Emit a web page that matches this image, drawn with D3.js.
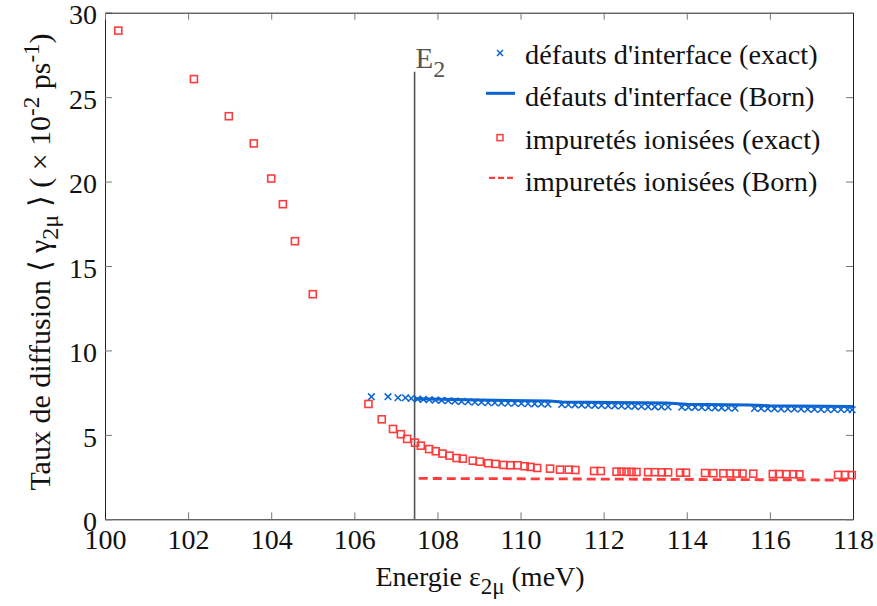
<!DOCTYPE html>
<html>
<head>
<meta charset="utf-8">
<script src="https://cdn.jsdelivr.net/npm/d3@7"></script>
<style>
    body { margin: 0; background: #fff; }
</style>
</head>
<body>
<script>
// tick labels
const xTicks = [100, 102, 104, 106, 108, 110, 112, 114, 116, 118];
const yTicks = [0, 5, 10, 15, 20, 25, 30];

// energie E2 (ligne verticale)
const E2 = 107.45;
const E2Top = 26.5;

// impuretés ionisées (exact)
const ionExactE = [100.32, 102.14, 102.98, 103.58, 104.00, 104.28, 104.57, 105.00,
    106.34, 106.66, 106.93, 107.12, 107.27, 107.46, 107.60, 107.80, 107.96, 108.12,
    108.29, 108.46, 108.61, 108.85, 109.02, 109.22, 109.40, 109.59, 109.75, 109.93,
    110.10, 110.24, 110.40, 110.71, 110.95, 111.16, 111.32, 111.77, 111.93,
    112.31, 112.43, 112.55, 112.67, 112.79, 113.07, 113.23, 113.40, 113.55,
    113.84, 113.98, 114.44, 114.64, 114.88, 115.04, 115.20, 115.34, 115.60,
    116.07, 116.22, 116.40, 116.56, 116.71, 117.64, 117.81, 117.97];
const ionExactRate = [28.94, 26.07, 23.87, 22.26, 20.18, 18.66, 16.47, 13.33,
    6.83, 5.92, 5.35, 5.04, 4.76, 4.54, 4.36, 4.16, 4.03, 3.89,
    3.77, 3.63, 3.59, 3.47, 3.41, 3.32, 3.28, 3.22, 3.20, 3.20,
    3.14, 3.10, 3.04, 3.00, 2.94, 2.94, 2.92, 2.86, 2.86,
    2.82, 2.82, 2.81, 2.81, 2.80, 2.79, 2.79, 2.78, 2.78,
    2.76, 2.76, 2.74, 2.73, 2.72, 2.72, 2.71, 2.71, 2.70,
    2.68, 2.68, 2.67, 2.67, 2.66, 2.63, 2.63, 2.62];

// impuretés ionisées (Born)
const ionBornE = [107.55, 110, 112, 114, 116, 118];
const ionBornRate = [2.42, 2.40, 2.38, 2.36, 2.34, 2.32];

// défauts d'interface (exact)
const ifExactE = [106.41, 106.81, 107.05, 107.23, 107.37,
    107.52, 107.66, 107.80, 107.95, 108.10, 108.26, 108.42, 108.58, 108.74, 108.90,
    109.06, 109.22, 109.38, 109.54, 109.70, 109.86, 110.02, 110.18, 110.34, 110.50, 110.66,
    110.99, 111.15, 111.31, 111.47, 111.63, 111.79, 111.95, 112.11, 112.27, 112.43,
    112.59, 112.75, 112.91, 113.07, 113.23, 113.39, 113.55,
    113.88, 114.04, 114.20, 114.36, 114.52, 114.68, 114.84, 115.00, 115.16,
    115.63, 115.79, 115.95, 116.11, 116.27, 116.43, 116.59, 116.75, 116.91,
    117.07, 117.23, 117.39, 117.55, 117.71, 117.87, 117.98];
const ifExactRate = [7.26, 7.26, 7.20, 7.20, 7.16,
    7.12, 7.10, 7.08, 7.06, 7.04, 7.02, 7.00, 6.98, 6.96, 6.94,
    6.93, 6.91, 6.90, 6.89, 6.88, 6.87, 6.86, 6.85, 6.84, 6.83, 6.82,
    6.80, 6.79, 6.78, 6.77, 6.76, 6.75, 6.74, 6.73, 6.72, 6.71,
    6.70, 6.69, 6.68, 6.67, 6.66, 6.66, 6.65,
    6.64, 6.63, 6.63, 6.62, 6.61, 6.60, 6.60, 6.59, 6.58,
    6.56, 6.56, 6.55, 6.55, 6.54, 6.54, 6.53, 6.53, 6.52,
    6.52, 6.51, 6.51, 6.50, 6.50, 6.50, 6.49];

// défauts d'interface (Born)
const ifBornE = [107.45, 109, 110.7, 111, 113.5, 114, 115.5, 116, 118];
const ifBornRate = [7.14, 7.06, 7.00, 6.95, 6.88, 6.82, 6.77, 6.73, 6.68];

const svgWidth = 877;
const svgHeight = 606;
const plot = {L: 105, R: 853, T: 12.7, B: 519.3};
const serif = "'Liberation Serif', 'Times New Roman', serif";

const blue = "#0a64d2";
const red = "#ff3b3b";

const svg = d3.select("body").append("svg")
    .attr("width", svgWidth)
    .attr("height", svgHeight)
    .style("font-family", serif);

const scaleX = d3.scaleLinear().domain([100, 118]).range([plot.L, plot.R]);
const scaleY = d3.scaleLinear().domain([0, 30]).range([plot.B, plot.T]);

const zip = (xs, ys) => xs.map((x, i) => [x, ys[i]]);

// frame with ticks on all sides
const tickLen = 7;
svg.append("g")
    .attr("transform", `translate(0,${plot.B})`)
    .call(d3.axisBottom(scaleX).tickValues(xTicks).tickSizeInner(-tickLen).tickSizeOuter(0).tickPadding(10))
    .attr("font-family", null)
    .call(g => g.select(".domain").attr("stroke", "#222"))
    .call(g => g.selectAll(".tick line").attr("stroke", "#777"))
    .call(g => g.selectAll(".tick text")
        .attr("font-size", 28).attr("fill", "#111").attr("dy", "0.72em"));

svg.append("g")
    .attr("transform", `translate(${plot.L},0)`)
    .call(d3.axisLeft(scaleY).tickValues(yTicks).tickSizeInner(-tickLen).tickSizeOuter(0).tickPadding(8))
    .attr("font-family", null)
    .call(g => g.select(".domain").attr("stroke", "#222"))
    .call(g => g.selectAll(".tick line").attr("stroke", "#777"))
    .call(g => g.selectAll(".tick text")
        .attr("font-size", 28).attr("fill", "#111").attr("dy", "0.4em"));

svg.append("g")
    .attr("transform", `translate(0,${plot.T})`)
    .call(d3.axisTop(scaleX).tickValues(xTicks).tickSizeInner(-tickLen).tickSizeOuter(0).tickFormat(""))
    .call(g => g.select(".domain").attr("stroke", "#222"))
    .call(g => g.selectAll(".tick line").attr("stroke", "#777"));

svg.append("g")
    .attr("transform", `translate(${plot.R},0)`)
    .call(d3.axisRight(scaleY).tickValues(yTicks).tickSizeInner(-tickLen).tickSizeOuter(0).tickFormat(""))
    .call(g => g.select(".domain").attr("stroke", "#222"))
    .call(g => g.selectAll(".tick line").attr("stroke", "#777"));

// E2 vertical line
svg.append("line")
    .attr("x1", scaleX(E2)).attr("x2", scaleX(E2))
    .attr("y1", scaleY(E2Top)).attr("y2", scaleY(0))
    .attr("stroke", "#555").attr("stroke-width", 1.6);

const e2Label = svg.append("text")
    .attr("x", scaleX(E2) + 1)
    .attr("y", scaleY(E2Top) - 4)
    .attr("font-size", 29)
    .attr("fill", "#555");
e2Label.append("tspan").text("E");
e2Label.append("tspan").attr("font-size", 24).attr("dy", 9).text("2");

// series
const line = d3.line().x(d => scaleX(d[0])).y(d => scaleY(d[1]));
const crossPath = (cx, cy, s) => `M${cx - s},${cy - s}L${cx + s},${cy + s}M${cx - s},${cy + s}L${cx + s},${cy - s}`;

// défauts d'interface (exact): crosses
svg.append("g").selectAll("path")
    .data(zip(ifExactE, ifExactRate))
    .join("path")
    .attr("d", d => crossPath(scaleX(d[0]), scaleY(d[1]), 3.3))
    .attr("stroke", blue).attr("stroke-width", 1.5).attr("fill", "none");

// défauts d'interface (Born)
svg.append("path")
    .datum(zip(ifBornE, ifBornRate))
    .attr("d", line)
    .attr("fill", "none").attr("stroke", blue).attr("stroke-width", 3);

// impuretés ionisées (exact): squares
const sq = 7;
svg.append("g").selectAll("rect")
    .data(zip(ionExactE, ionExactRate))
    .join("rect")
    .attr("x", d => scaleX(d[0]) - sq / 2)
    .attr("y", d => scaleY(d[1]) - sq / 2)
    .attr("width", sq).attr("height", sq)
    .attr("fill", "none").attr("stroke", red).attr("stroke-width", 1.6);

// impuretés ionisées (Born)
svg.append("path")
    .datum(zip(ionBornE, ionBornRate))
    .attr("d", line)
    .attr("fill", "none").attr("stroke", red).attr("stroke-width", 2.8)
    .attr("stroke-dasharray", "9,5");

// legend
const legend = [
    {label: "défauts d'interface (exact)", type: "cross"},
    {label: "défauts d'interface (Born)", type: "line"},
    {label: "impuretés ionisées (exact)", type: "square"},
    {label: "impuretés ionisées (Born)", type: "dash"}
];
const lg = svg.append("g").attr("transform", "translate(500,54)");
legend.forEach((d, i) => {
    const y = i * 42.3;
    if (d.type === "cross")
        lg.append("path").attr("d", crossPath(0, y - 1, 3)).attr("stroke", blue).attr("stroke-width", 1.5);
    if (d.type === "line")
        lg.append("line").attr("x1", -14).attr("x2", 15).attr("y1", y - 3).attr("y2", y - 3)
            .attr("stroke", blue).attr("stroke-width", 3);
    if (d.type === "square")
        lg.append("rect").attr("x", -3).attr("y", y - 4).attr("width", 6).attr("height", 6)
            .attr("fill", "none").attr("stroke", red).attr("stroke-width", 1.5);
    if (d.type === "dash")
        lg.append("line").attr("x1", -11).attr("x2", 14).attr("y1", y - 3).attr("y2", y - 3)
            .attr("stroke", red).attr("stroke-width", 2.2).attr("stroke-dasharray", "6,3");
    lg.append("text").attr("x", 25).attr("y", y).attr("dy", "0.35em")
        .attr("font-size", 28.3).attr("fill", "#111").text(d.label);
});

// axis titles
const xTitle = svg.append("text")
    .attr("x", 480).attr("y", 586)
    .attr("text-anchor", "middle")
    .attr("fill", "#111")
    .attr("font-size", 28);
xTitle.append("tspan").text("Energie ε");
xTitle.append("tspan").attr("font-size", 23).attr("dy", 8).text("2μ");
xTitle.append("tspan").attr("dy", -8).text(" (meV)");

const yTitle = svg.append("text")
    .attr("transform", "translate(50,262) rotate(-90)")
    .attr("text-anchor", "middle")
    .attr("fill", "#111")
    .attr("font-size", 30);
yTitle.append("tspan").text("Taux de diffusion ⟨ γ");
yTitle.append("tspan").attr("font-size", 24).attr("dy", 8).text("2μ");
yTitle.append("tspan").attr("dy", -8).text(" ⟩ ( × 10");
yTitle.append("tspan").attr("font-size", 23).attr("dy", -11).text("-2");
yTitle.append("tspan").attr("dy", 11).text(" ps");
yTitle.append("tspan").attr("font-size", 23).attr("dy", -11).text("-1");
yTitle.append("tspan").attr("dy", 11).text(")");
</script>
</body>
</html>
